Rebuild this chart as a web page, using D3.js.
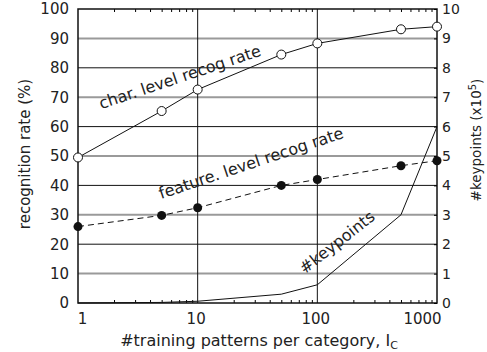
<!DOCTYPE html>
<html>
<head>
<meta charset="utf-8">
<script src="https://cdn.jsdelivr.net/npm/d3@7"></script>
<style>
  body { margin: 0; background: #fff; }
  text { font-family: "DejaVu Sans", Verdana, sans-serif; fill: #222; }
</style>
</head>
<body>
<div class="chart"></div>
<script>
// training patterns per category (x, log)
var patterns = [1, 5, 10, 50, 100, 500, 1000];
var charRate = [49.5, 65.3, 72.6, 84.5, 88.3, 93.1, 94.0];
var featRate = [26.0, 29.8, 32.4, 40.0, 42.0, 46.7, 48.4];
var keypoints = [0.0, 0.02, 0.06, 0.3, 0.62, 3.0, 6.0]; // x10^5
var leftTicks = [0, 10, 20, 30, 40, 50, 60, 70, 80, 90, 100];
var rightTicks = [0, 1, 2, 3, 4, 5, 6, 7, 8, 9, 10];
var xTicks = [1, 10, 100, 1000];

var W = 487, H = 352;
var m = {top: 9, right: 50, bottom: 49, left: 78};
var w = W - m.left - m.right, h = H - m.top - m.bottom;

var svg = d3.select('.chart').append('svg')
	.attr('width', W)
	.attr('height', H);

var g = svg.append('g').attr('transform', 'translate(' + m.left + ',' + m.top + ')');

var x = d3.scaleLog().domain([1, 1000]).range([0, w]);
var y = d3.scaleLinear().domain([0, 100]).range([h, 0]);
var y2 = d3.scaleLinear().domain([0, 10]).range([h, 0]);

/*---------------------------GRID--------------------------*/

g.selectAll('.hgrid').data(leftTicks.slice(1, -1)).enter()
	.append('line')
	.attr('x1', 0).attr('x2', w)
	.attr('y1', function(d) { return y(d); })
	.attr('y2', function(d) { return y(d); })
	.attr('stroke', function(d) { return (d / 10) % 2 ? '#9a9a9a' : '#111'; })
	.attr('stroke-width', function(d) { return (d / 10) % 2 ? 2 : 1; });

g.selectAll('.vgrid').data([10, 100]).enter()
	.append('line')
	.attr('x1', function(d) { return x(d); })
	.attr('x2', function(d) { return x(d); })
	.attr('y1', 0).attr('y2', h)
	.attr('stroke', '#111');

/*---------------------------AXES--------------------------*/

var minor = x.ticks().filter(function(d) { return xTicks.indexOf(d) < 0; });

g.append('g')
	.attr('transform', 'translate(0,' + h + ')')
	.call(d3.axisTop(x).tickValues(minor).tickSize(3).tickFormat(''))
	.call(function(s) { s.select('.domain').remove(); });

g.append('g')
	.call(d3.axisBottom(x).tickValues(minor).tickSize(3).tickFormat(''))
	.call(function(s) { s.select('.domain').remove(); });

g.append('rect')
	.attr('width', w).attr('height', h)
	.attr('fill', 'none')
	.attr('stroke', '#111')
	.attr('stroke-width', 1.5);

var xLab = g.append('g')
	.attr('transform', 'translate(0,' + h + ')')
	.call(d3.axisBottom(x).tickValues(xTicks).tickSize(0).tickPadding(10)
		.tickFormat(d3.format('d')));
xLab.select('.domain').remove();
xLab.selectAll('text').style('font-size', '15px').attr('fill', '#222')
	.attr('dx', function(d) { return d === 1 ? 4 : d === 1000 ? -15 : -2; });

var yLab = g.append('g')
	.call(d3.axisLeft(y).tickValues(leftTicks).tickSize(0).tickPadding(9));
yLab.select('.domain').remove();
yLab.selectAll('text').style('font-size', '15px').attr('fill', '#222');

var y2Lab = g.append('g')
	.attr('transform', 'translate(' + w + ',0)')
	.call(d3.axisLeft(y2).tickValues(rightTicks).tickSize(3).tickFormat(''));
y2Lab.select('.domain').remove();

var y2Txt = g.append('g')
	.attr('transform', 'translate(' + w + ',0)')
	.call(d3.axisRight(y2).tickValues(rightTicks).tickSize(0).tickPadding(5));
y2Txt.select('.domain').remove();
y2Txt.selectAll('text').style('font-size', '14px').attr('fill', '#222');

/*---------------------------TITLES--------------------------*/

svg.append('text')
	.attr('transform', 'translate(25,154) rotate(-90)')
	.attr('text-anchor', 'middle')
	.attr('dy', '0.35em')
	.style('font-size', '15px')
	.text('recognition rate (%)');

var rt = svg.append('text')
	.attr('transform', 'translate(476,140) rotate(-90)')
	.attr('text-anchor', 'middle')
	.attr('dy', '0.35em')
	.style('font-size', '13.5px');
rt.append('tspan').text('#keypoints (x10');
rt.append('tspan').attr('dy', '-0.45em').style('font-size', '10px').text('5');
rt.append('tspan').attr('dy', '0.45em').text(')');

var xt = svg.append('text')
	.attr('x', 259).attr('y', 346)
	.attr('text-anchor', 'middle')
	.style('font-size', '16px');
xt.append('tspan').text('#training patterns per category, I');
xt.append('tspan').attr('dy', '0.25em').style('font-size', '11px').text('C');

/*---------------------------SERIES--------------------------*/

var line = d3.line()
	.x(function(d) { return x(d[0]); })
	.y(function(d) { return y(d[1]); });

var line2 = d3.line()
	.x(function(d) { return x(d[0]); })
	.y(function(d) { return y2(d[1]); });

g.append('path')
	.datum(d3.zip(patterns, keypoints))
	.attr('d', line2)
	.attr('fill', 'none').attr('stroke', '#111').attr('stroke-width', 1);

g.append('path')
	.datum(d3.zip(patterns, featRate))
	.attr('d', line)
	.attr('fill', 'none').attr('stroke', '#111').attr('stroke-width', 1)
	.attr('stroke-dasharray', '6,4');

g.append('path')
	.datum(d3.zip(patterns, charRate))
	.attr('d', line)
	.attr('fill', 'none').attr('stroke', '#111').attr('stroke-width', 1);

g.selectAll('.feat').data(d3.zip(patterns, featRate)).enter()
	.append('circle')
	.attr('cx', function(d) { return x(d[0]); })
	.attr('cy', function(d) { return y(d[1]); })
	.attr('r', 4.5)
	.attr('fill', '#111');

g.selectAll('.char').data(d3.zip(patterns, charRate)).enter()
	.append('circle')
	.attr('cx', function(d) { return x(d[0]); })
	.attr('cy', function(d) { return y(d[1]); })
	.attr('r', 4.5)
	.attr('fill', '#fff')
	.attr('stroke', '#111');

/*---------------------------LABELS--------------------------*/

var notes = [
	{t: 'char. level recog rate', px: 7.1, py: 76.9, a: -18.5},
	{t: 'feature. level recog rate', px: 27.9, py: 47.6, a: -18.5},
	{t: '#keypoints', px: 146, py: 2.07, a: -38, right: true}
];

g.selectAll('.note').data(notes).enter()
	.append('text')
	.attr('transform', function(d) {
		var yy = d.right ? y2(d.py) : y(d.py);
		return 'translate(' + x(d.px) + ',' + yy + ') rotate(' + d.a + ')';
	})
	.attr('text-anchor', 'middle')
	.attr('dy', '0.35em')
	.style('font-size', '16px')
	.text(function(d) { return d.t; });
</script>
</body>
</html>
